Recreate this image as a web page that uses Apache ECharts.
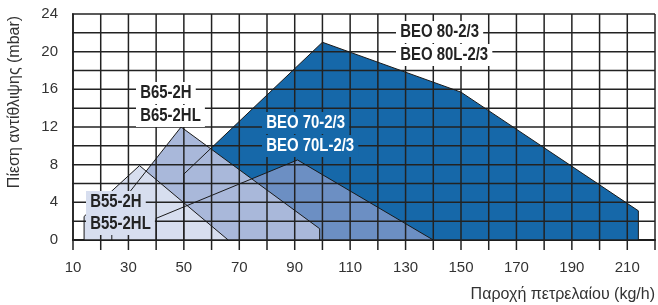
<!DOCTYPE html>
<html>
<head>
<meta charset="utf-8">
<script src="https://cdn.jsdelivr.net/npm/echarts@6/dist/echarts.min.js"></script>
<style>
  html, body { margin: 0; padding: 0; background: #fff; }
  #chart { width: 658px; height: 305px; }
</style>
</head>
<body>
<div id="chart"></div>
<script>
  // working ranges, [flow kg/h, pressure mbar]
  const beo80 = [[50, 0], [50, 7], [100, 21], [150, 15.7], [214, 3.1], [214, 0]]
  const beo70 = [[40, 0], [40, 2.3], [91, 8.5], [140, 0]]
  const b65 = [[24, 0], [24, 2.7], [49, 12], [99, 1.2], [99, 0]]
  const b55 = [[14, 0], [14, 2.5], [34, 7.9], [66, 0]]

  const xTicks = [10, 30, 50, 70, 90, 110, 130, 150, 170, 190, 210]
  const yTicks = [0, 4, 8, 12, 16, 20, 24]
  const xGrid = [10, 20, 30, 40, 50, 60, 70, 80, 90, 100, 110, 120, 130, 140, 150, 160, 170, 180, 190, 200, 210, 220]
  const yGrid = [0, 2, 4, 6, 8, 10, 12, 14, 16, 18, 20, 22, 24]

  const ranges = [
    { name: 'BEO 80', data: beo80, color: '#1668a9' },
    { name: 'BEO 70', data: beo70, color: '#6c8fc3' },
    { name: 'B65', data: b65, color: '#a9b8da' },
    { name: 'B55', data: b55, color: '#d7deef' }
  ]

  const fills = ranges.map(r => ({
    name: r.name,
    type: 'line',
    data: r.data,
    symbol: 'none',
    z: 2,
    lineStyle: { opacity: 0 },
    areaStyle: { color: r.color, opacity: 1 }
  }))
  const outlines = ranges.map(r => ({
    name: r.name + ' outline',
    type: 'line',
    data: r.data,
    symbol: 'none',
    z: 5,
    lineStyle: { color: '#1a1a1a', width: 1 }
  }))

  // grid drawn above the filled ranges, like the printed chart;
  // lines run past the axes to make the outer tick marks
  const xOver = 3.6   // ~10px in x units
  const yOver = 1.06  // ~10px in y units
  const gridLines = xGrid.map(v => ({
    name: 'gx' + v,
    type: 'line',
    symbol: 'none',
    clip: false,
    z: 4,
    lineStyle: { color: '#222222', width: 1.5 },
    data: [[v, -yOver], [v, 24]]
  })).concat(yGrid.map(v => ({
    name: 'gy' + v,
    type: 'line',
    symbol: 'none',
    clip: false,
    z: 4,
    lineStyle: { color: '#222222', width: 1.5 },
    data: [[10 - xOver, v], [220, v]]
  })))

  const labelFont = 'bold 18px "Liberation Sans", Arial, sans-serif'
  function tag (text, x, y, fill, bg) {
    return {
      type: 'text',
      x: x,
      y: y,
      z: 20,
      scaleX: 0.83,
      style: {
        text: text,
        font: labelFont,
        fill: fill,
        textVerticalAlign: 'middle',
        backgroundColor: bg,
        padding: [2, 5]
      }
    }
  }

  const chart = echarts.init(document.getElementById('chart'))
  chart.setOption({
    animation: false,
    grid: { left: 73, right: 3, top: 14, bottom: 65 },
    xAxis: {
      type: 'value',
      min: 10,
      max: 220,
      interval: 10,
      axisLine: { lineStyle: { color: '#111', width: 2 } },
      axisTick: { show: false },
      axisLabel: {
        margin: 20,
        fontSize: 15,
        color: '#333',
        fontFamily: 'Liberation Sans, Arial, sans-serif',
        formatter: v => (xTicks.indexOf(v) >= 0 ? String(v) : '')
      },
      splitLine: { show: false }
    },
    yAxis: {
      type: 'value',
      min: 0,
      max: 24,
      interval: 2,
      axisLine: { show: true, lineStyle: { color: '#111', width: 1.5 } },
      axisTick: { show: false },
      axisLabel: {
        margin: 15,
        fontSize: 15,
        color: '#333',
        fontFamily: 'Liberation Sans, Arial, sans-serif',
        formatter: v => (yTicks.indexOf(v) >= 0 ? String(v) : '')
      },
      splitLine: { show: false }
    },
    graphic: [
      {
        type: 'text',
        x: 15,
        y: 102,
        rotation: Math.PI / 2,
        style: {
          text: 'Πίεση αντίθλιψης (mbar)',
          font: '16px "Liberation Sans", Arial, sans-serif',
          fill: '#333',
          textAlign: 'center',
          textVerticalAlign: 'middle'
        }
      },
      {
        type: 'text',
        x: 655,
        y: 295,
        style: {
          text: 'Παροχή πετρελαίου (kg/h)',
          font: '16px "Liberation Sans", Arial, sans-serif',
          fill: '#333',
          textAlign: 'right',
          textVerticalAlign: 'middle'
        }
      },
      tag('BEO 80-2/3', 396, 32, '#222', '#fff'),
      tag('BEO 80L-2/3', 396, 55, '#222', '#fff'),
      tag('B65-2H', 136, 93, '#222', '#fff'),
      tag('B65-2HL', 136, 116, '#222', '#fff'),
      tag('BEO 70-2/3', 262, 123, '#fff', '#1668a9'),
      tag('BEO 70L-2/3', 262, 146, '#fff', '#1668a9'),
      tag('B55-2H', 86, 202, '#222', '#d7deef'),
      tag('B55-2HL', 86, 224, '#222', '#d7deef')
    ],
    series: fills.concat(gridLines).concat(outlines)
  })
</script>
</body>
</html>
